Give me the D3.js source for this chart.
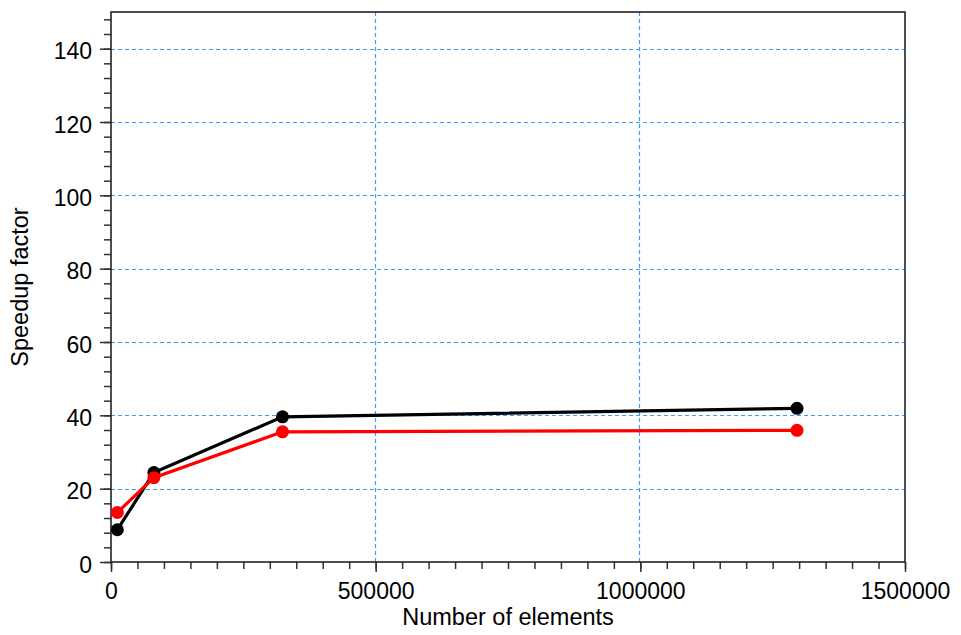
<!DOCTYPE html>
<html>
<head>
<meta charset="utf-8">
<script src="https://cdn.jsdelivr.net/npm/d3@7"></script>
<style>
  body { margin: 0; background: #fff; }
  text { font-family: "Liberation Sans", Arial, sans-serif; fill: #000; }
</style>
</head>
<body>
<div id="vis"></div>
<script>
var width = 961,
	height = 635;

// data
var elements = [12000, 81000, 324000, 1296000];
var speedupBlack = [8.8, 24.4, 39.6, 41.9];
var speedupRed = [13.5, 23.0, 35.5, 35.9];

var xMajor = [0, 500000, 1000000, 1500000];
var yMajor = [0, 20, 40, 60, 80, 100, 120, 140];
var xGrid = [500000, 1000000];
var yGrid = [20, 40, 60, 80, 100, 120, 140];

var plotL = 111, plotR = 905, plotT = 12, plotB = 562;

var x = d3.scaleLinear().domain([0, 1500000]).range([plotL, plotR]),
	y = d3.scaleLinear().domain([0, 150]).range([plotB, plotT]);

var svg = d3.select('#vis')
	.append('svg')
	.attr('width', width)
	.attr('height', height);

// grid
svg.append('g').selectAll('line')
	.data(yGrid)
	.enter()
	.append('line')
	.attr('x1', plotL).attr('x2', plotR)
	.attr('y1', function(d) { return Math.round(y(d)) + 0.5; })
	.attr('y2', function(d) { return Math.round(y(d)) + 0.5; })
	.style('stroke', '#3c9bff')
	.style('stroke-width', 1.2)
	.style('stroke-dasharray', '4,3');

svg.append('g').selectAll('line')
	.data(xGrid)
	.enter()
	.append('line')
	.attr('y1', plotT).attr('y2', plotB)
	.attr('x1', function(d) { return Math.round(x(d)) - 0.5; })
	.attr('x2', function(d) { return Math.round(x(d)) - 0.5; })
	.style('stroke', '#3c9bff')
	.style('stroke-width', 1.2)
	.style('stroke-dasharray', '4,3');

// minor ticks
var xMinor = d3.range(0, 1500001, 50000),
	yMinor = d3.range(0, 151, 4);

svg.append('g')
	.attr('transform', 'translate(0,' + plotB + ')')
	.call(d3.axisBottom(x).tickValues(xMinor).tickSize(7).tickFormat(''))
	.call(function(g) { g.select('.domain').remove(); });

svg.append('g')
	.attr('transform', 'translate(' + plotL + ',0)')
	.call(d3.axisLeft(y).tickValues(yMinor).tickSize(7).tickFormat(''))
	.call(function(g) { g.select('.domain').remove(); });

// major ticks + labels
var xAxis = svg.append('g')
	.attr('transform', 'translate(0,' + plotB + ')')
	.call(d3.axisBottom(x).tickValues(xMajor).tickSize(10).tickFormat(d3.format('d')));
xAxis.select('.domain').remove();
xAxis.selectAll('text')
	.attr('y', 37).attr('dy', null)
	.style('font-size', '23px');

var yAxis = svg.append('g')
	.attr('transform', 'translate(' + plotL + ',0)')
	.call(d3.axisLeft(y).tickValues(yMajor).tickSize(11));
yAxis.select('.domain').remove();
yAxis.selectAll('text')
	.attr('x', -19).attr('dy', 10)
	.style('font-size', '23px');

svg.selectAll('.tick line').style('stroke', '#333').style('stroke-width', 1.5);

// frame
svg.append('rect')
	.attr('x', plotL).attr('y', plotT)
	.attr('width', plotR - plotL).attr('height', plotB - plotT)
	.style('fill', 'none')
	.style('stroke', '#222')
	.style('stroke-width', 1.6);

// series
var line = d3.line()
	.x(function(d) { return x(d[0]); })
	.y(function(d) { return y(d[1]); });

function drawSeries(vals, col) {
	var pts = elements.map(function(e, i) { return [e, vals[i]]; });
	svg.append('path')
		.datum(pts)
		.attr('d', line)
		.style('fill', 'none')
		.style('stroke', col)
		.style('stroke-width', 3.2);
	svg.append('g').selectAll('circle')
		.data(pts)
		.enter()
		.append('circle')
		.attr('cx', function(d) { return x(d[0]); })
		.attr('cy', function(d) { return y(d[1]); })
		.attr('r', 6.5)
		.style('fill', col);
}

drawSeries(speedupBlack, '#000');
drawSeries(speedupRed, '#ff0000');

// axis titles
svg.append('text')
	.attr('x', (plotL + plotR) / 2)
	.attr('y', 625)
	.attr('text-anchor', 'middle')
	.style('font-size', '23.5px')
	.text('Number of elements');

svg.append('text')
	.attr('transform', 'translate(28,' + (plotT + plotB) / 2 + ') rotate(-90)')
	.attr('text-anchor', 'middle')
	.style('font-size', '23.5px')
	.text('Speedup factor');
</script>
</body>
</html>
